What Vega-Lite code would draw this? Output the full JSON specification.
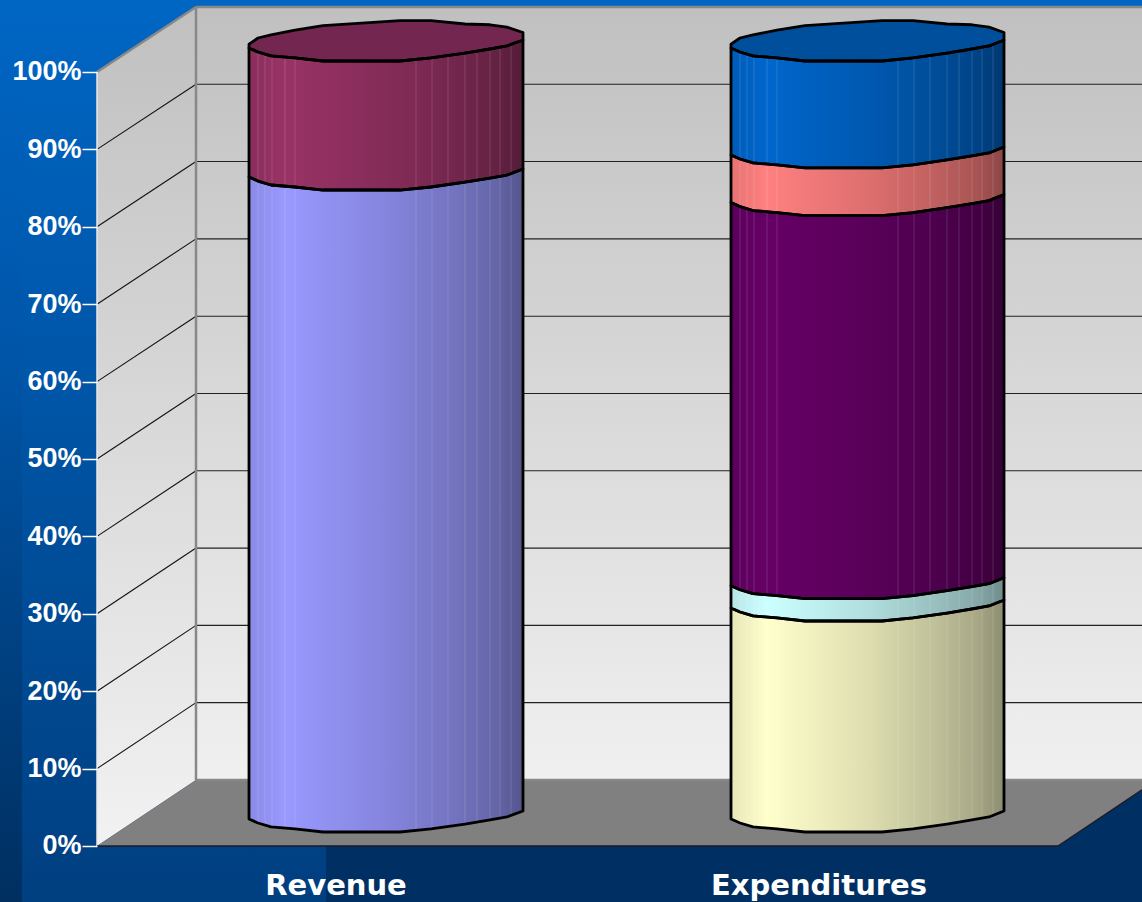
{"$schema":"https://vega.github.io/schema/vega-lite/v6.json","width":1142,"height":902,"padding":0,"autosize":{"type":"none"},"background":"#003f80","config":{"view":{"stroke":null}},
"datasets":{"cyl":[
{"s":"r1","x":249,"lo":3.49,"hi":86.43},{"s":"r1","x":258,"lo":2.97,"hi":85.91},{"s":"r1","x":271,"lo":2.46,"hi":85.40},{"s":"r1","x":295,"lo":2.20,"hi":85.14},{"s":"r1","x":323,"lo":1.81,"hi":84.75},{"s":"r1","x":400,"lo":1.81,"hi":84.75},{"s":"r1","x":431,"lo":2.20,"hi":85.14},{"s":"r1","x":465,"lo":2.84,"hi":85.78},{"s":"r1","x":490,"lo":3.36,"hi":86.30},{"s":"r1","x":507,"lo":3.75,"hi":86.69},{"s":"r1","x":523,"lo":4.52,"hi":87.46},
{"s":"r2","x":249,"lo":86.43,"hi":103.10},{"s":"r2","x":258,"lo":85.91,"hi":102.58},{"s":"r2","x":271,"lo":85.40,"hi":102.07},{"s":"r2","x":295,"lo":85.14,"hi":101.81},{"s":"r2","x":323,"lo":84.75,"hi":101.42},{"s":"r2","x":400,"lo":84.75,"hi":101.42},{"s":"r2","x":431,"lo":85.14,"hi":101.81},{"s":"r2","x":465,"lo":85.78,"hi":102.45},{"s":"r2","x":490,"lo":86.30,"hi":102.97},{"s":"r2","x":507,"lo":86.69,"hi":103.36},{"s":"r2","x":523,"lo":87.46,"hi":104.13},
{"s":"rt","x":249,"lo":103.10,"hi":103.6},{"s":"rt","x":258,"lo":102.58,"hi":104.39},{"s":"rt","x":271,"lo":102.07,"hi":104.8},{"s":"rt","x":295,"lo":101.81,"hi":105.4},{"s":"rt","x":323,"lo":101.42,"hi":106.0},{"s":"rt","x":400,"lo":101.42,"hi":106.63},{"s":"rt","x":431,"lo":101.81,"hi":106.63},{"s":"rt","x":465,"lo":102.45,"hi":106.2},{"s":"rt","x":490,"lo":102.97,"hi":106.1},{"s":"rt","x":507,"lo":103.36,"hi":105.8},{"s":"rt","x":523,"lo":104.13,"hi":105.1},
{"s":"e1","x":731,"lo":3.49,"hi":30.75},{"s":"e1","x":740,"lo":2.97,"hi":30.23},{"s":"e1","x":753,"lo":2.46,"hi":29.72},{"s":"e1","x":777,"lo":2.20,"hi":29.46},{"s":"e1","x":805,"lo":1.81,"hi":29.07},{"s":"e1","x":882,"lo":1.81,"hi":29.07},{"s":"e1","x":913,"lo":2.20,"hi":29.46},{"s":"e1","x":947,"lo":2.84,"hi":30.10},{"s":"e1","x":972,"lo":3.36,"hi":30.62},{"s":"e1","x":989,"lo":3.75,"hi":31.01},{"s":"e1","x":1004,"lo":4.52,"hi":31.78},
{"s":"e2","x":731,"lo":30.75,"hi":33.63},{"s":"e2","x":740,"lo":30.23,"hi":33.11},{"s":"e2","x":753,"lo":29.72,"hi":32.60},{"s":"e2","x":777,"lo":29.46,"hi":32.34},{"s":"e2","x":805,"lo":29.07,"hi":31.95},{"s":"e2","x":882,"lo":29.07,"hi":31.95},{"s":"e2","x":913,"lo":29.46,"hi":32.34},{"s":"e2","x":947,"lo":30.10,"hi":32.98},{"s":"e2","x":972,"lo":30.62,"hi":33.50},{"s":"e2","x":989,"lo":31.01,"hi":33.89},{"s":"e2","x":1004,"lo":31.78,"hi":34.66},
{"s":"e3","x":731,"lo":33.63,"hi":83.13},{"s":"e3","x":740,"lo":33.11,"hi":82.61},{"s":"e3","x":753,"lo":32.60,"hi":82.10},{"s":"e3","x":777,"lo":32.34,"hi":81.84},{"s":"e3","x":805,"lo":31.95,"hi":81.45},{"s":"e3","x":882,"lo":31.95,"hi":81.45},{"s":"e3","x":913,"lo":32.34,"hi":81.84},{"s":"e3","x":947,"lo":32.98,"hi":82.48},{"s":"e3","x":972,"lo":33.50,"hi":83.00},{"s":"e3","x":989,"lo":33.89,"hi":83.39},{"s":"e3","x":1004,"lo":34.66,"hi":84.16},
{"s":"e4","x":731,"lo":83.13,"hi":89.28},{"s":"e4","x":740,"lo":82.61,"hi":88.76},{"s":"e4","x":753,"lo":82.10,"hi":88.25},{"s":"e4","x":777,"lo":81.84,"hi":87.99},{"s":"e4","x":805,"lo":81.45,"hi":87.60},{"s":"e4","x":882,"lo":81.45,"hi":87.60},{"s":"e4","x":913,"lo":81.84,"hi":87.99},{"s":"e4","x":947,"lo":82.48,"hi":88.63},{"s":"e4","x":972,"lo":83.00,"hi":89.15},{"s":"e4","x":989,"lo":83.39,"hi":89.54},{"s":"e4","x":1004,"lo":84.16,"hi":90.31},
{"s":"e5","x":731,"lo":89.28,"hi":103.10},{"s":"e5","x":740,"lo":88.76,"hi":102.58},{"s":"e5","x":753,"lo":88.25,"hi":102.07},{"s":"e5","x":777,"lo":87.99,"hi":101.81},{"s":"e5","x":805,"lo":87.60,"hi":101.42},{"s":"e5","x":882,"lo":87.60,"hi":101.42},{"s":"e5","x":913,"lo":87.99,"hi":101.81},{"s":"e5","x":947,"lo":88.63,"hi":102.45},{"s":"e5","x":972,"lo":89.15,"hi":102.97},{"s":"e5","x":989,"lo":89.54,"hi":103.36},{"s":"e5","x":1004,"lo":90.31,"hi":104.13},
{"s":"et","x":731,"lo":103.10,"hi":103.6},{"s":"et","x":740,"lo":102.58,"hi":104.39},{"s":"et","x":753,"lo":102.07,"hi":104.8},{"s":"et","x":777,"lo":101.81,"hi":105.4},{"s":"et","x":805,"lo":101.42,"hi":106.0},{"s":"et","x":882,"lo":101.42,"hi":106.63},{"s":"et","x":913,"lo":101.81,"hi":106.63},{"s":"et","x":947,"lo":102.45,"hi":106.2},{"s":"et","x":972,"lo":102.97,"hi":106.1},{"s":"et","x":989,"lo":103.36,"hi":105.8},{"s":"et","x":1004,"lo":104.13,"hi":105.1}
],
"grid":[{"v":0,"b":8.53},{"v":10,"b":18.52},{"v":20,"b":28.5},{"v":30,"b":38.49},{"v":40,"b":48.48},{"v":50,"b":58.47},{"v":60,"b":68.45},{"v":70,"b":78.44},{"v":80,"b":88.43},{"v":90,"b":98.41},{"v":100,"b":108.4}],
"facets":[{"x":258,"lo":2.97,"hi":102.58},{"x":265,"lo":2.7,"hi":102.3},{"x":272,"lo":2.45,"hi":102.05},{"x":285,"lo":2.2,"hi":101.9},{"x":295,"lo":2.2,"hi":101.8},{"x":416,"lo":2.0,"hi":101.6},{"x":432,"lo":2.2,"hi":101.8},{"x":448,"lo":2.5,"hi":102.1},{"x":465,"lo":2.84,"hi":102.45},{"x":477,"lo":3.1,"hi":102.7},{"x":490,"lo":3.36,"hi":102.97},{"x":500,"lo":3.6,"hi":103.2},{"x":511,"lo":4.0,"hi":103.6},
{"x":740,"lo":2.97,"hi":102.58},{"x":747,"lo":2.7,"hi":102.3},{"x":754,"lo":2.45,"hi":102.05},{"x":767,"lo":2.2,"hi":101.9},{"x":777,"lo":2.2,"hi":101.8},{"x":898,"lo":2.0,"hi":101.6},{"x":914,"lo":2.2,"hi":101.8},{"x":930,"lo":2.5,"hi":102.1},{"x":947,"lo":2.84,"hi":102.45},{"x":959,"lo":3.1,"hi":102.7},{"x":972,"lo":3.36,"hi":102.97},{"x":982,"lo":3.6,"hi":103.2},{"x":993,"lo":4.0,"hi":103.6}]},
"layer":[
{"data":{"values":[{"x0":0,"x1":1142,"y0":-7.235,"y1":109.3}]},"mark":{"type":"rect","fill":{"gradient":"linear","x1":0,"y1":0,"x2":0,"y2":1,"stops":[{"offset":0,"color":"#0066c4"},{"offset":1,"color":"#003f80"}]}},"encoding":{"x":{"field":"x0","type":"quantitative","scale":{"domain":[0,1142],"range":[0,1142],"nice":false,"zero":false},"axis":null},"x2":{"field":"x1"},"y":{"field":"y0","type":"quantitative","scale":{"domain":[-7.235,109.3],"range":[902,0],"nice":false,"zero":false},"axis":{"values":[0,10,20,30,40,50,60,70,80,90,100],"title":null,"offset":-97,"domain":false,"grid":false,"format":".0f","labelExpr":"datum.label + '%'","labelColor":"#ffffff","labelFont":"Liberation Sans","labelFontWeight":"bold","labelFontSize":27,"labelPadding":1,"tickColor":"#ffffff","tickSize":15,"tickWidth":1.5,"zindex":1}},"y2":{"field":"y1"}}},
{"data":{"values":[{"x0":0,"x1":22,"y0":-7.235,"y1":109.3}]},"mark":{"type":"rect","fill":{"gradient":"linear","x1":0,"y1":0,"x2":0,"y2":1,"stops":[{"offset":0,"color":"#0066c4"},{"offset":0.4,"color":"#0055a8"},{"offset":1,"color":"#002f60"}]}},"encoding":{"x":{"field":"x0","type":"quantitative","axis":null},"x2":{"field":"x1"},"y":{"field":"y0","type":"quantitative"},"y2":{"field":"y1"}}},
{"data":{"values":[{"x0":326,"x1":1142,"y0":-7.235,"y1":0}]},"mark":{"type":"rect","fill":"#003063"},"encoding":{"x":{"field":"x0","type":"quantitative","axis":null},"x2":{"field":"x1"},"y":{"field":"y0","type":"quantitative"},"y2":{"field":"y1"}}},
{"data":{"values":[{"x":1058,"lo":0,"hi":0},{"x":1142,"lo":0,"hi":7.24}]},"mark":{"type":"area","orient":"vertical","fill":"#003063"},"encoding":{"x":{"field":"x","type":"quantitative","axis":null},"y":{"field":"hi","type":"quantitative"},"y2":{"field":"lo"}}},
{"data":{"values":[{"x":97,"lo":0,"hi":100},{"x":196,"lo":8.53,"hi":108.4}]},"mark":{"type":"area","orient":"vertical","fill":{"gradient":"linear","x1":0,"y1":0,"x2":0,"y2":1,"stops":[{"offset":0,"color":"#c0c0c0"},{"offset":1,"color":"#f2f2f2"}]}},"encoding":{"x":{"field":"x","type":"quantitative","axis":null},"y":{"field":"hi","type":"quantitative"},"y2":{"field":"lo"}}},
{"data":{"values":[{"x0":196,"x1":1142,"y0":8.53,"y1":108.4}]},"mark":{"type":"rect","fill":{"gradient":"linear","x1":0,"y1":0,"x2":0,"y2":1,"stops":[{"offset":0,"color":"#c0c0c0"},{"offset":1,"color":"#f0f0f0"}]}},"encoding":{"x":{"field":"x0","type":"quantitative","axis":null},"x2":{"field":"x1"},"y":{"field":"y0","type":"quantitative"},"y2":{"field":"y1"}}},
{"data":{"values":[{"x":97,"lo":0,"hi":0},{"x":196,"lo":0,"hi":8.53},{"x":1058,"lo":0,"hi":8.53},{"x":1142,"lo":7.24,"hi":8.53}]},"mark":{"type":"area","orient":"vertical","fill":"#808080"},"encoding":{"x":{"field":"x","type":"quantitative","axis":null},"y":{"field":"hi","type":"quantitative"},"y2":{"field":"lo"}}},
{"data":{"name":"grid"},"transform":[{"filter":"datum.v>0 && datum.v<100"}],"mark":{"type":"rule","color":"#222222","strokeWidth":1.1},"encoding":{"x":{"datum":196,"type":"quantitative","axis":null},"x2":{"datum":1142},"y":{"field":"b","type":"quantitative"}}},
{"data":{"name":"grid"},"transform":[{"filter":"datum.v>0 && datum.v<100"}],"mark":{"type":"rule","color":"#111111","strokeWidth":1.1},"encoding":{"x":{"datum":97,"type":"quantitative","axis":null},"x2":{"datum":196},"y":{"field":"v","type":"quantitative"},"y2":{"field":"b"}}},
{"data":{"values":[{"x0":196,"x1":1142,"y0":108.4,"y1":108.4},{"x0":196,"x1":196,"y0":8.53,"y1":108.4},{"x0":97,"x1":196,"y0":100,"y1":108.4},{"x0":196,"x1":1142,"y0":8.53,"y1":8.53}]},"mark":{"type":"rule","color":"#888888","strokeWidth":2.5},"encoding":{"x":{"field":"x0","type":"quantitative","axis":null},"x2":{"field":"x1"},"y":{"field":"y0","type":"quantitative"},"y2":{"field":"y1"}}},
{"data":{"values":[{"x0":97,"x1":97,"y0":0,"y1":100}]},"mark":{"type":"rule","color":"#e8e8e8","strokeWidth":1.5},"encoding":{"x":{"field":"x0","type":"quantitative","axis":null},"x2":{"field":"x1"},"y":{"field":"y0","type":"quantitative"},"y2":{"field":"y1"}}},
{"data":{"values":[{"x0":97,"x1":1058,"y0":0,"y1":0},{"x0":1058,"x1":1142,"y0":0,"y1":7.24}]},"mark":{"type":"rule","color":"#1a1a2a","strokeWidth":1.5},"encoding":{"x":{"field":"x0","type":"quantitative","axis":null},"x2":{"field":"x1"},"y":{"field":"y0","type":"quantitative"},"y2":{"field":"y1"}}},
{"data":{"name":"cyl"},"transform":[{"filter":"datum.s=='r1'"}],"mark":{"type":"area","orient":"vertical","fill":{"gradient":"linear","x1":0,"y1":0,"x2":1,"y2":0,"stops":[{"offset":0,"color":"#8a8ae6"},{"offset":0.13,"color":"#9999ff"},{"offset":0.5,"color":"#8585de"},{"offset":0.75,"color":"#7373bf"},{"offset":0.9,"color":"#6565a8"},{"offset":1,"color":"#54548c"}]}},"encoding":{"x":{"field":"x","type":"quantitative","axis":null},"y":{"field":"hi","type":"quantitative"},"y2":{"field":"lo"}}},
{"data":{"name":"cyl"},"transform":[{"filter":"datum.s=='r2'"}],"mark":{"type":"area","orient":"vertical","fill":{"gradient":"linear","x1":0,"y1":0,"x2":1,"y2":0,"stops":[{"offset":0,"color":"#8a2e5c"},{"offset":0.13,"color":"#993366"},{"offset":0.5,"color":"#852c59"},{"offset":0.75,"color":"#73264d"},{"offset":0.9,"color":"#652243"},{"offset":1,"color":"#541c38"}]}},"encoding":{"x":{"field":"x","type":"quantitative","axis":null},"y":{"field":"hi","type":"quantitative"},"y2":{"field":"lo"}}},
{"data":{"name":"cyl"},"transform":[{"filter":"datum.s=='e1'"}],"mark":{"type":"area","orient":"vertical","fill":{"gradient":"linear","x1":0,"y1":0,"x2":1,"y2":0,"stops":[{"offset":0,"color":"#e6e6b8"},{"offset":0.13,"color":"#ffffcc"},{"offset":0.5,"color":"#dedeb1"},{"offset":0.75,"color":"#bfbf99"},{"offset":0.9,"color":"#a8a887"},{"offset":1,"color":"#8c8c70"}]}},"encoding":{"x":{"field":"x","type":"quantitative","axis":null},"y":{"field":"hi","type":"quantitative"},"y2":{"field":"lo"}}},
{"data":{"name":"cyl"},"transform":[{"filter":"datum.s=='e2'"}],"mark":{"type":"area","orient":"vertical","fill":{"gradient":"linear","x1":0,"y1":0,"x2":1,"y2":0,"stops":[{"offset":0,"color":"#b8e6e6"},{"offset":0.13,"color":"#ccffff"},{"offset":0.5,"color":"#b1dede"},{"offset":0.75,"color":"#99bfbf"},{"offset":0.9,"color":"#87a8a8"},{"offset":1,"color":"#708c8c"}]}},"encoding":{"x":{"field":"x","type":"quantitative","axis":null},"y":{"field":"hi","type":"quantitative"},"y2":{"field":"lo"}}},
{"data":{"name":"cyl"},"transform":[{"filter":"datum.s=='e3'"}],"mark":{"type":"area","orient":"vertical","fill":{"gradient":"linear","x1":0,"y1":0,"x2":1,"y2":0,"stops":[{"offset":0,"color":"#5c005c"},{"offset":0.13,"color":"#660066"},{"offset":0.5,"color":"#590059"},{"offset":0.75,"color":"#4d004d"},{"offset":0.9,"color":"#430043"},{"offset":1,"color":"#380038"}]}},"encoding":{"x":{"field":"x","type":"quantitative","axis":null},"y":{"field":"hi","type":"quantitative"},"y2":{"field":"lo"}}},
{"data":{"name":"cyl"},"transform":[{"filter":"datum.s=='e4'"}],"mark":{"type":"area","orient":"vertical","fill":{"gradient":"linear","x1":0,"y1":0,"x2":1,"y2":0,"stops":[{"offset":0,"color":"#e67373"},{"offset":0.13,"color":"#ff8080"},{"offset":0.5,"color":"#de6f6f"},{"offset":0.75,"color":"#bf6060"},{"offset":0.9,"color":"#a85454"},{"offset":1,"color":"#8c4646"}]}},"encoding":{"x":{"field":"x","type":"quantitative","axis":null},"y":{"field":"hi","type":"quantitative"},"y2":{"field":"lo"}}},
{"data":{"name":"cyl"},"transform":[{"filter":"datum.s=='e5'"}],"mark":{"type":"area","orient":"vertical","fill":{"gradient":"linear","x1":0,"y1":0,"x2":1,"y2":0,"stops":[{"offset":0,"color":"#005cb8"},{"offset":0.13,"color":"#0066cc"},{"offset":0.5,"color":"#0059b1"},{"offset":0.75,"color":"#004d99"},{"offset":0.9,"color":"#004387"},{"offset":1,"color":"#003870"}]}},"encoding":{"x":{"field":"x","type":"quantitative","axis":null},"y":{"field":"hi","type":"quantitative"},"y2":{"field":"lo"}}},
{"data":{"name":"facets"},"mark":{"type":"rule","color":"#ffffff","opacity":0.14,"strokeWidth":1},"encoding":{"x":{"field":"x","type":"quantitative","axis":null},"y":{"field":"lo","type":"quantitative"},"y2":{"field":"hi"}}},
{"data":{"name":"cyl"},"transform":[{"filter":"datum.s=='rt'"}],"mark":{"type":"area","orient":"vertical","fill":"#732650"},"encoding":{"x":{"field":"x","type":"quantitative","axis":null},"y":{"field":"hi","type":"quantitative"},"y2":{"field":"lo"}}},
{"data":{"name":"cyl"},"transform":[{"filter":"datum.s=='et'"}],"mark":{"type":"area","orient":"vertical","fill":"#004f9c"},"encoding":{"x":{"field":"x","type":"quantitative","axis":null},"y":{"field":"hi","type":"quantitative"},"y2":{"field":"lo"}}},
{"data":{"name":"cyl"},"mark":{"type":"area","orient":"vertical","fillOpacity":0,"fill":"#000000","stroke":"#000000","strokeWidth":2.8,"strokeJoin":"round"},"encoding":{"x":{"field":"x","type":"quantitative","axis":null},"y":{"field":"hi","type":"quantitative"},"y2":{"field":"lo"},"detail":{"field":"s"}}},
{"data":{"values":[{"x":336,"y":-6.33,"label":"Revenue"},{"x":819,"y":-6.33,"label":"Expenditures"}]},"mark":{"type":"text","color":"#ffffff","font":"DejaVu Sans","fontWeight":"bold","fontSize":29,"align":"center","baseline":"alphabetic"},"encoding":{"x":{"field":"x","type":"quantitative","axis":null},"y":{"field":"y","type":"quantitative"},"text":{"field":"label"}}}
]}
